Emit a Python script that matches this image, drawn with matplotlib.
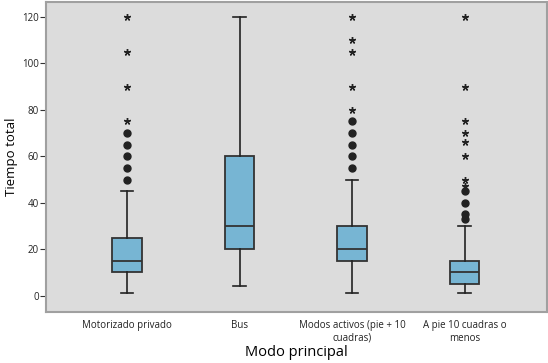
import matplotlib
matplotlib.use("Agg")
import matplotlib.pyplot as plt
import numpy as np

plt.rcParams['font.family'] = ['Open Sans', 'DejaVu Sans']

categories = ["Motorizado privado", "Bus", "Modos activos (pie + 10\ncuadras)",
              "A pie 10 cuadras o\nmenos"]
whislo = [1, 4, 1, 1]
q1 = [10, 20, 15, 5]
med = [15, 30, 20, 10]
q3 = [25, 60, 30, 15]
whishi = [45, 120, 50, 30]
# outliers (circles) and extreme values (stars)
circles = [
    [50, 55, 60, 65, 70],
    [],
    [55, 60, 65, 70, 75],
    [33, 35, 40, 45],
]
stars = [
    [75, 90, 105, 120],
    [],
    [80, 90, 105, 110, 120],
    [47, 50, 60, 66, 70, 75, 90, 120],
]

fig = plt.figure(figsize=(5.48, 3.63), dpi=100)
ax = fig.add_axes([0.0839, 0.1413, 0.9137, 0.8532])
ax.set_facecolor('#dcdcdc')

stats = []
for i in range(len(categories)):
    stats.append(dict(whislo=whislo[i], q1=q1[i], med=med[i], q3=q3[i],
                      whishi=whishi[i], fliers=[]))

pos = np.arange(1, len(categories) + 1)
ax.bxp(stats, positions=pos, widths=0.26, capwidths=0.115, patch_artist=True,
       showfliers=False,
       boxprops=dict(facecolor='#77b5d3', edgecolor='#333333', linewidth=1.3),
       medianprops=dict(color='#333333', linewidth=1.3),
       whiskerprops=dict(color='#222222', linewidth=1.2),
       capprops=dict(color='#222222', linewidth=1.2))

for i in range(len(categories)):
    if circles[i]:
        ax.plot([pos[i]] * len(circles[i]), circles[i], 'o', color='#222222',
                markersize=5, zorder=3)
    if stars[i]:
        ax.plot([pos[i]] * len(stars[i]), stars[i], linestyle='none',
                marker=(5, 2, 0), color='#222222', markersize=5,
                markeredgewidth=1.0, zorder=3)

ax.set_xlim(0.28, 4.73)
ax.set_ylim(-6.9, 126.4)
ax.set_yticks(np.arange(0, 121, 20))
ax.tick_params(axis='y', labelsize=7, length=4, width=0.8, color='#333333',
               labelcolor='#222222', pad=1)
ax.set_xticks(pos)
ax.set_xticklabels(categories, fontsize=7, color='#222222')
ax.tick_params(axis='x', length=0, pad=6)

for s in ax.spines.values():
    s.set_color('#a0a0a0')
    s.set_linewidth(1.5)

ax.set_ylabel("Tiempo total", fontsize=9.5, va='center')
ax.yaxis.set_label_coords(-0.068, 0.5)
ax.set_xlabel("Modo principal", fontsize=10.5, labelpad=1)

fig.savefig("out.png", dpi=100)
